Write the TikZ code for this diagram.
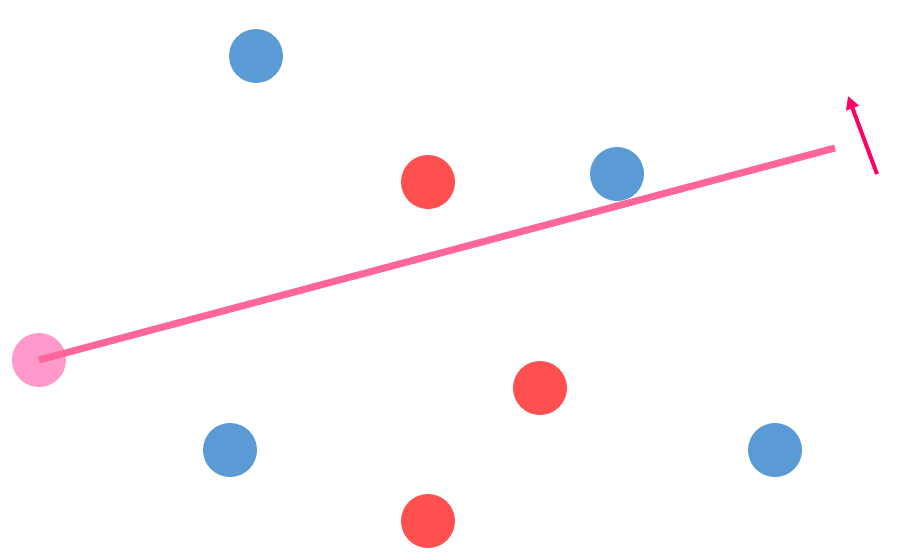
\documentclass[tikz,border=0pt]{standalone}
\usetikzlibrary{arrows.meta}
\definecolor{dotblue}{HTML}{5B9BD5}
\definecolor{dotred}{HTML}{FF5050}
\definecolor{dotpink}{HTML}{FF99CC}
\definecolor{linepink}{HTML}{FF6699}
\definecolor{arrowpink}{HTML}{FF0066}
\begin{document}
\begin{tikzpicture}[x=1pt,y=-1pt,
  dot/.style={circle,inner sep=0pt,minimum size=54pt,draw=none},
  bluedot/.style={dot,fill=dotblue},
  reddot/.style={dot,fill=dotred},
  pinkdot/.style={dot,fill=dotpink},
  sepline/.style={draw=linepink,line width=7pt},
  normalarrow/.style={draw=arrowpink,line width=4pt,-{Triangle[length=13pt,width=13pt]}}]
\useasboundingbox (0,0) rectangle (898,560);
\node[bluedot] (b1) at (256,56) {};
\node[reddot] (r1) at (428,182) {};
\node[bluedot] (b2) at (617,174) {};
\node[pinkdot] (p) at (39,360) {};
\node[reddot] (r2) at (540,388) {};
\node[bluedot] (b3) at (230,450) {};
\node[bluedot] (b4) at (775,450) {};
\node[reddot] (r3) at (428,521) {};
\coordinate (lend) at (835,148);
\draw[sepline] (p.center) -- (lend);
\coordinate (atail) at (877,174);
\coordinate (atip) at (848,96);
\draw[normalarrow] (atail) -- (atip);
\end{tikzpicture}
\end{document}
